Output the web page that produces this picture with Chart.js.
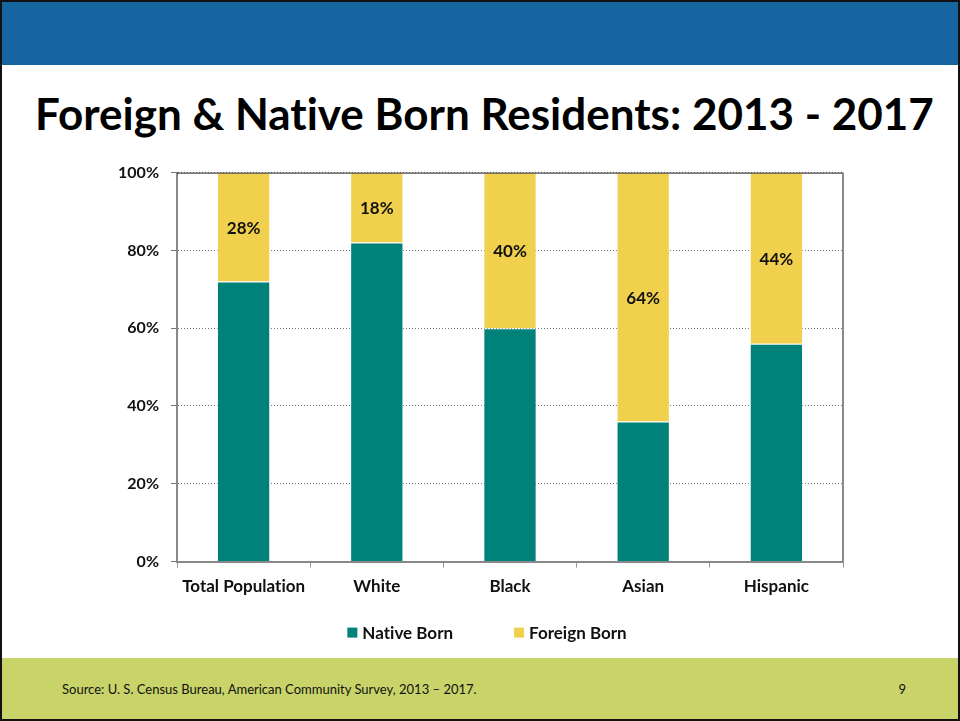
<!DOCTYPE html>
<html>
<head>
<meta charset="utf-8">
<script src="https://cdn.jsdelivr.net/npm/chart.js@4"></script>
<style>
  html, body { margin:0; padding:0; background:#fff; }
  .slide { position:relative; width:960px; height:721px; box-sizing:border-box; border:2px solid #111; overflow:hidden; font-family:Lato, "Open Sans", sans-serif; font-variant-ligatures:none; }
  .band { position:absolute; left:0; right:0; top:0; height:63px; background:#1664a0; }
  .title { position:absolute; left:33px; top:85px; font-size:44px; font-weight:700; color:#000; white-space:nowrap; letter-spacing:0; }
  .foot { position:absolute; left:0; right:0; bottom:0; height:61px; background:#c8d46a; }
  .src { position:absolute; left:60px; top:23px; font-size:13px; color:#111; }
  .pg { position:absolute; right:52px; top:23px; font-size:13px; color:#111; }
  .wrap { position:absolute; left:93px; top:149px; width:762px; height:510px; }
</style>
</head>
<body>
<div class="slide">
  <div class="band"></div>
  <div class="title">Foreign &amp; Native Born Residents: 2013 - 2017</div>
  <div class="wrap"><canvas id="chart"></canvas></div>
  <div class="foot">
    <div class="src">Source: U. S. Census Bureau, American Community Survey, 2013 – 2017.</div>
    <div class="pg">9</div>
  </div>
</div>
<script>
const categories = ['Total Population', 'White', 'Black', 'Asian', 'Hispanic'];
const nativeBorn = [72, 82, 60, 36, 56];
const foreignBorn = [28, 18, 40, 64, 44];
const yTicks = [0, 20, 40, 60, 80, 100];

const TEAL = '#00827a';
const GOLD = '#f0d04c';
const FONT = 'Lato, "Open Sans", sans-serif';

// labels in the middle of the foreign-born segments
const segLabels = {
  id: 'segLabels',
  afterDatasetsDraw(chart) {
    const ctx = chart.ctx;
    const meta = chart.getDatasetMeta(1);
    ctx.save();
    ctx.font = 'bold 17px ' + FONT;
    ctx.fillStyle = '#111';
    ctx.textAlign = 'center';
    ctx.textBaseline = 'middle';
    meta.data.forEach((bar, i) => {
      ctx.fillText(foreignBorn[i] + '%', bar.x, (bar.y + bar.base) / 2 + 1);
    });
    ctx.restore();
  }
};

// solid frame lines on top and right of plot area
const plotFrame = {
  id: 'plotFrame',
  afterDraw(chart) {
    const a = chart.chartArea, ctx = chart.ctx;
    ctx.save();
    ctx.lineWidth = 1;
    ctx.strokeStyle = '#222';
    ctx.beginPath(); ctx.moveTo(a.left, a.top + 0.5); ctx.lineTo(a.right, a.top + 0.5); ctx.stroke();
    ctx.strokeStyle = '#888';
    ctx.lineWidth = 2;
    ctx.beginPath(); ctx.moveTo(a.right, a.top); ctx.lineTo(a.right, a.bottom); ctx.stroke();
    ctx.restore();
  }
};

// legend with wide gap between entries, built from the datasets
const wideLegend = {
  id: 'wideLegend',
  afterDraw(chart) {
    const ctx = chart.ctx;
    const gap = 61, box = 10, tgap = 5;
    ctx.save();
    ctx.font = 'bold 17px ' + FONT;
    const items = chart.data.datasets.map(d => ({ text: d.label, color: d.backgroundColor, w: box + tgap + ctx.measureText(d.label).width }));
    const total = items.reduce((s, it) => s + it.w, 0) + gap * (items.length - 1);
    let x = chart.width / 2 + 11 - total / 2;
    const y = chart.chartArea.bottom + 71;
    ctx.textBaseline = 'middle';
    ctx.textAlign = 'left';
    items.forEach(it => {
      ctx.fillStyle = it.color;
      ctx.fillRect(x, y - box / 2, box, box);
      ctx.fillStyle = '#111';
      ctx.fillText(it.text, x + box + tgap, y + 1);
      x += it.w + gap;
    });
    ctx.restore();
  }
};

new Chart(document.getElementById('chart'), {
  type: 'bar',
  data: {
    labels: categories,
    datasets: [
      { label: 'Native Born', data: nativeBorn, backgroundColor: TEAL, borderColor: 'rgba(255,255,255,0.35)', borderWidth: 1, barPercentage: 0.5, categoryPercentage: 0.8 },
      { label: 'Foreign Born', data: foreignBorn, backgroundColor: GOLD, borderColor: 'rgba(255,255,255,0.35)', borderWidth: 1, barPercentage: 0.5, categoryPercentage: 0.8 }
    ]
  },
  options: {
    responsive: true,
    maintainAspectRatio: false,
    animation: false,
    layout: { padding: { top: 13, right: 14, left: 0, bottom: 55 } },
    plugins: {
      tooltip: { enabled: false },
      legend: { display: false }
    },
    scales: {
      x: {
        stacked: true,
        grid: { display: true, drawOnChartArea: false, drawTicks: true, tickLength: 6, color: '#999', offset: true },
        border: { color: '#888', width: 2 },
        ticks: { font: { family: FONT, size: 17, weight: 'bold' }, color: '#111', padding: 9 }
      },
      y: {
        stacked: true,
        min: 0, max: 100,
        afterFit(s) { s.width = 82; },
        afterBuildTicks(s) { s.ticks = yTicks.map(v => ({ value: v })); },
        grid: { color: '#777', drawTicks: true, tickLength: 6 },
        border: { color: '#888', width: 2, dash: [1, 2] },
        ticks: { font: { family: FONT, size: 16, weight: 'bold' }, color: '#111', padding: 12, callback: v => v + '%' }
      }
    }
  },
  plugins: [segLabels, plotFrame, wideLegend]
});
</script>
</body>
</html>
